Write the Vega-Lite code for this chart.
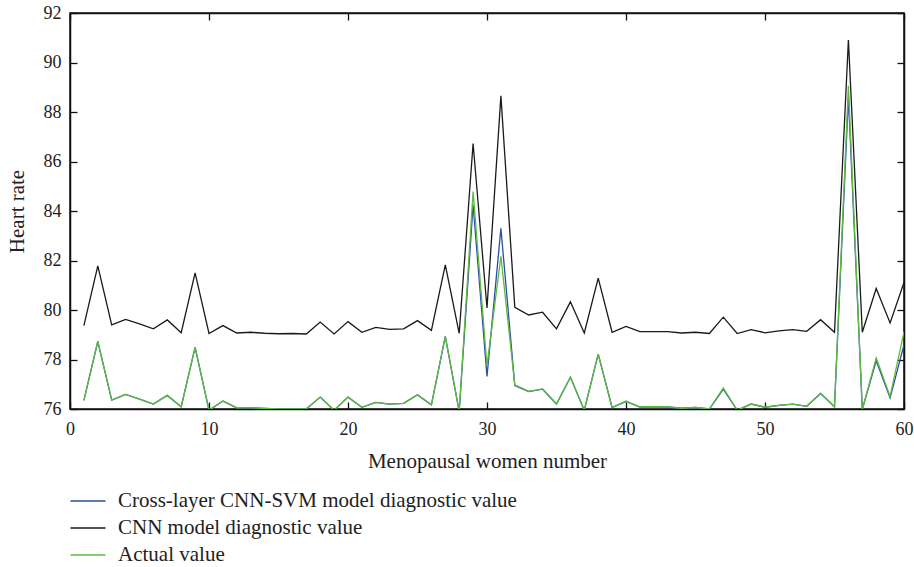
{
  "$schema": "https://vega.github.io/schema/vega-lite/v6.json",
  "width": 834,
  "height": 396,
  "autosize": {"type": "none"},
  "padding": {"left": 70, "top": 13, "right": 10, "bottom": 158},
  "background": "white",
  "config": {
    "font": "Liberation Serif",
    "view": {"stroke": "#111", "strokeWidth": 1.5},
    "axis": {
      "grid": false,
      "domainColor": "#111",
      "domainWidth": 1.5,
      "tickColor": "#111",
      "tickWidth": 1.3,
      "tickSize": -7,
      "labelFont": "Liberation Serif",
      "labelFontSize": 18,
      "labelColor": "#222",
      "titleFont": "Liberation Serif",
      "titleFontSize": 21,
      "titleFontWeight": "normal",
      "titleColor": "#222"
    },
    "legend": {
      "labelFont": "Liberation Serif",
      "labelFontSize": 21,
      "labelColor": "#222",
      "labelLimit": 0
    }
  },
  "data": {
    "values": [
      {"n": 1, "cnn": 79.37, "svm": 76.35, "actual": 76.35},
      {"n": 2, "cnn": 81.78, "svm": 78.73, "actual": 78.73},
      {"n": 3, "cnn": 79.40, "svm": 76.36, "actual": 76.36},
      {"n": 4, "cnn": 79.62, "svm": 76.59, "actual": 76.59},
      {"n": 5, "cnn": 79.44, "svm": 76.40, "actual": 76.40},
      {"n": 6, "cnn": 79.24, "svm": 76.20, "actual": 76.20},
      {"n": 7, "cnn": 79.60, "svm": 76.55, "actual": 76.55},
      {"n": 8, "cnn": 79.08, "svm": 76.09, "actual": 76.09},
      {"n": 9, "cnn": 81.50, "svm": 78.49, "actual": 78.49},
      {"n": 10, "cnn": 79.05, "svm": 75.95, "actual": 75.95},
      {"n": 11, "cnn": 79.37, "svm": 76.32, "actual": 76.32},
      {"n": 12, "cnn": 79.07, "svm": 76.05, "actual": 76.05},
      {"n": 13, "cnn": 79.10, "svm": 76.05, "actual": 76.05},
      {"n": 14, "cnn": 79.06, "svm": 76.02, "actual": 76.02},
      {"n": 15, "cnn": 79.04, "svm": 76.00, "actual": 76.00},
      {"n": 16, "cnn": 79.05, "svm": 76.00, "actual": 76.00},
      {"n": 17, "cnn": 79.03, "svm": 76.00, "actual": 76.00},
      {"n": 18, "cnn": 79.51, "svm": 76.48, "actual": 76.48},
      {"n": 19, "cnn": 79.03, "svm": 75.95, "actual": 75.95},
      {"n": 20, "cnn": 79.53, "svm": 76.48, "actual": 76.48},
      {"n": 21, "cnn": 79.10, "svm": 76.07, "actual": 76.07},
      {"n": 22, "cnn": 79.30, "svm": 76.27, "actual": 76.27},
      {"n": 23, "cnn": 79.22, "svm": 76.20, "actual": 76.20},
      {"n": 24, "cnn": 79.24, "svm": 76.23, "actual": 76.23},
      {"n": 25, "cnn": 79.57, "svm": 76.57, "actual": 76.57},
      {"n": 26, "cnn": 79.18, "svm": 76.17, "actual": 76.17},
      {"n": 27, "cnn": 81.82, "svm": 78.93, "actual": 78.93},
      {"n": 28, "cnn": 79.06, "svm": 75.90, "actual": 75.90},
      {"n": 29, "cnn": 86.73, "svm": 84.25, "actual": 84.79},
      {"n": 30, "cnn": 80.08, "svm": 77.32, "actual": 77.75},
      {"n": 31, "cnn": 88.65, "svm": 83.30, "actual": 82.17},
      {"n": 32, "cnn": 80.11, "svm": 76.95, "actual": 76.98},
      {"n": 33, "cnn": 79.80, "svm": 76.70, "actual": 76.71},
      {"n": 34, "cnn": 79.91, "svm": 76.80, "actual": 76.81},
      {"n": 35, "cnn": 79.24, "svm": 76.20, "actual": 76.20},
      {"n": 36, "cnn": 80.33, "svm": 77.28, "actual": 77.28},
      {"n": 37, "cnn": 79.07, "svm": 75.95, "actual": 75.95},
      {"n": 38, "cnn": 81.29, "svm": 78.22, "actual": 78.22},
      {"n": 39, "cnn": 79.10, "svm": 76.06, "actual": 76.06},
      {"n": 40, "cnn": 79.34, "svm": 76.31, "actual": 76.31},
      {"n": 41, "cnn": 79.13, "svm": 76.08, "actual": 76.08},
      {"n": 42, "cnn": 79.13, "svm": 76.09, "actual": 76.09},
      {"n": 43, "cnn": 79.13, "svm": 76.08, "actual": 76.08},
      {"n": 44, "cnn": 79.07, "svm": 76.03, "actual": 76.03},
      {"n": 45, "cnn": 79.10, "svm": 76.06, "actual": 76.06},
      {"n": 46, "cnn": 79.05, "svm": 76.00, "actual": 76.00},
      {"n": 47, "cnn": 79.71, "svm": 76.80, "actual": 76.85},
      {"n": 48, "cnn": 79.05, "svm": 75.95, "actual": 75.95},
      {"n": 49, "cnn": 79.21, "svm": 76.20, "actual": 76.20},
      {"n": 50, "cnn": 79.08, "svm": 76.07, "actual": 76.07},
      {"n": 51, "cnn": 79.16, "svm": 76.15, "actual": 76.15},
      {"n": 52, "cnn": 79.21, "svm": 76.20, "actual": 76.20},
      {"n": 53, "cnn": 79.14, "svm": 76.11, "actual": 76.11},
      {"n": 54, "cnn": 79.61, "svm": 76.63, "actual": 76.63},
      {"n": 55, "cnn": 79.10, "svm": 76.09, "actual": 76.09},
      {"n": 56, "cnn": 90.91, "svm": 88.60, "actual": 89.06},
      {"n": 57, "cnn": 79.10, "svm": 75.98, "actual": 75.98},
      {"n": 58, "cnn": 80.87, "svm": 77.95, "actual": 78.06},
      {"n": 59, "cnn": 79.48, "svm": 76.45, "actual": 76.51},
      {"n": 60, "cnn": 81.11, "svm": 78.60, "actual": 79.12}
    ]
  },
  "layer": [
    {
      "mark": {"type": "line", "strokeWidth": 1.3, "clip": true},
      "encoding": {
        "x": {
          "field": "n",
          "type": "quantitative",
          "scale": {"domain": [0, 60], "nice": false, "zero": false},
          "axis": {"orient": "bottom", "values": [0, 10, 20, 30, 40, 50, 60], "title": "Menopausal women number", "labelPadding": 18, "titlePadding": 12, "labelFlush": false}
        },
        "y": {
          "field": "cnn",
          "type": "quantitative",
          "scale": {"domain": [76, 92], "nice": false, "zero": false},
          "axis": {"orient": "left", "values": [76, 78, 80, 82, 84, 86, 88, 90, 92], "title": "Heart rate", "labelPadding": 16, "titlePadding": 16, "labelFlush": false}
        },
        "color": {
          "datum": "CNN model diagnostic value",
          "scale": {
            "domain": ["Cross-layer CNN-SVM model diagnostic value", "CNN model diagnostic value", "Actual value"],
            "range": ["#2b4ea3", "#1a1a1a", "#5cbb3f"]
          },
          "legend": {
            "title": null,
            "orient": "none",
            "legendX": 7,
            "legendY": 477,
            "direction": "vertical",
            "symbolType": "M-1.75,0H1.75",
            "symbolSize": 400,
            "symbolStrokeWidth": 1.5,
            "rowPadding": 6,
            "labelOffset": 19
          }
        }
      }
    },
    {
      "mark": {"type": "line", "strokeWidth": 1.3, "clip": true},
      "encoding": {
        "x": {"field": "n", "type": "quantitative", "axis": null},
        "y": {"field": "svm", "type": "quantitative", "axis": null},
        "color": {"datum": "Cross-layer CNN-SVM model diagnostic value"}
      }
    },
    {
      "mark": {"type": "line", "strokeWidth": 1.3, "clip": true},
      "encoding": {
        "x": {"field": "n", "type": "quantitative", "axis": null},
        "y": {"field": "actual", "type": "quantitative", "axis": null},
        "color": {"datum": "Actual value"}
      }
    },
    {
      "mark": {"type": "line", "opacity": 0, "clip": true},
      "encoding": {
        "x": {
          "field": "n",
          "type": "quantitative",
          "axis": {"orient": "top", "values": [0, 10, 20, 30, 40, 50, 60], "labels": false, "title": null, "ticks": true, "tickSize": -7}
        },
        "y": {
          "field": "actual",
          "type": "quantitative",
          "axis": {"orient": "right", "values": [76, 78, 80, 82, 84, 86, 88, 90, 92], "labels": false, "title": null, "ticks": true, "tickSize": -7}
        }
      }
    }
  ],
  "resolve": {"axis": {"x": "independent", "y": "independent"}}
}
